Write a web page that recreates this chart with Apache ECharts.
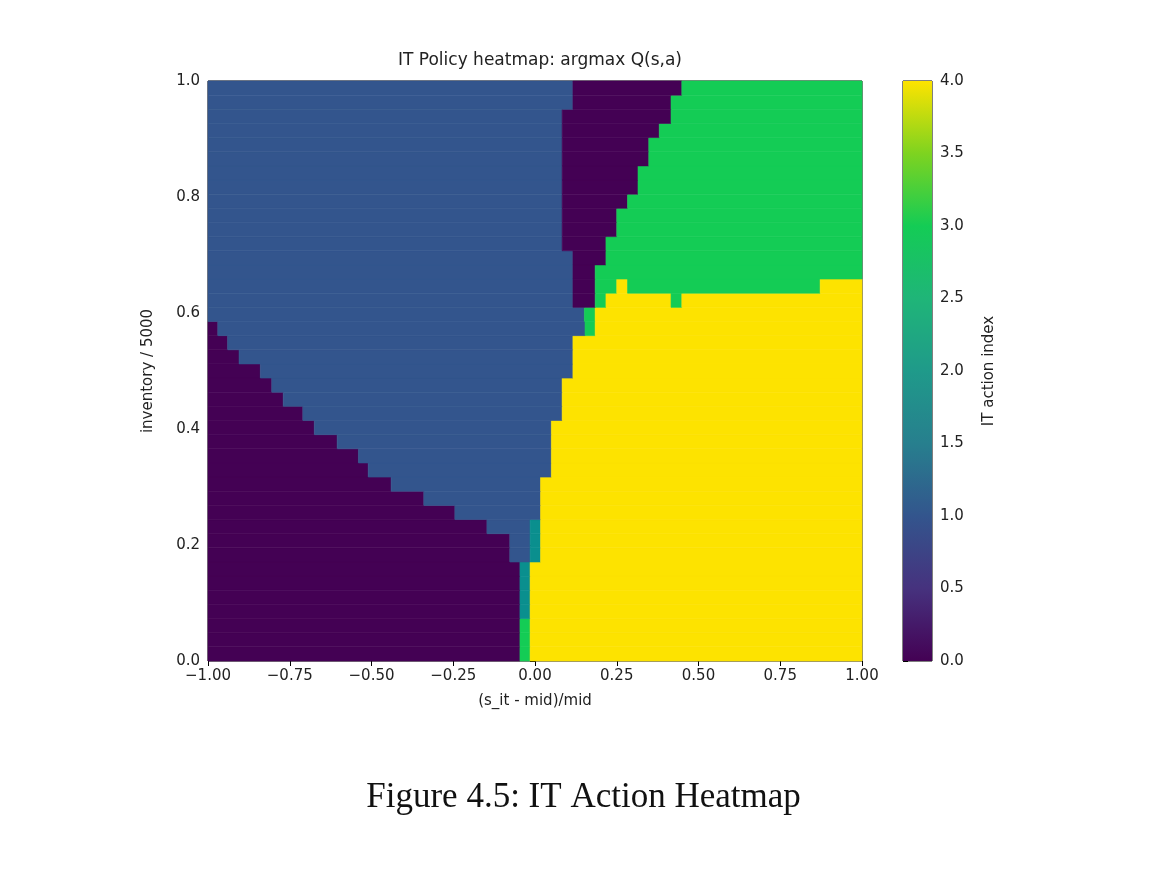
<!DOCTYPE html>
<html><head><meta charset="utf-8">
<script src="https://cdn.jsdelivr.net/npm/echarts@6/dist/echarts.min.js"></script>
<style>html,body{margin:0;background:#fff}#c{width:1167px;height:878px}</style>
</head><body><div id="c"></div>
<script>
const nRows = 41;
// per row (bottom to top): class of each run and x where that run ends
const rowClasses = [
 [0,3,4],[0,3,4],[0,3,4],[0,2,4],[0,2,4],[0,2,4],[0,2,4],
 [0,1,2,4],[0,1,2,4],[0,1,2,4],
 [0,1,4],[0,1,4],[0,1,4],[0,1,4],[0,1,4],[0,1,4],[0,1,4],[0,1,4],[0,1,4],[0,1,4],[0,1,4],[0,1,4],[0,1,4],
 [0,1,3,4],[1,3,4],[1,0,3,4,3,4],[1,0,3,4,3,4],
 [1,0,3],[1,0,3],[1,0,3],[1,0,3],[1,0,3],[1,0,3],[1,0,3],[1,0,3],[1,0,3],[1,0,3],[1,0,3],[1,0,3],[1,0,3],[1,0,3]
];
const rowEnds = [
 [-0.046,-0.015,1],[-0.046,-0.015,1],[-0.046,-0.015,1],
 [-0.046,-0.015,1],[-0.046,-0.015,1],[-0.046,-0.015,1],[-0.046,-0.015,1],
 [-0.077,-0.015,0.017,1],[-0.077,-0.015,0.017,1],[-0.147,-0.015,0.017,1],
 [-0.245,0.017,1],[-0.34,0.017,1],[-0.44,0.017,1],
 [-0.51,0.05,1],[-0.54,0.05,1],[-0.605,0.05,1],[-0.675,0.05,1],
 [-0.71,0.083,1],[-0.77,0.083,1],[-0.805,0.083,1],
 [-0.84,0.116,1],[-0.905,0.116,1],[-0.94,0.116,1],
 [-0.97,0.153,0.184,1],[0.151,0.184,1],
 [0.116,0.184,0.217,0.416,0.449,1],[0.116,0.184,0.25,0.283,0.872,1],
 [0.116,0.184,1],[0.116,0.217,1],[0.083,0.217,1],[0.083,0.25,1],[0.083,0.25,1],
 [0.083,0.283,1],[0.083,0.315,1],[0.083,0.315,1],[0.083,0.348,1],[0.083,0.348,1],
 [0.083,0.38,1],[0.083,0.416,1],[0.116,0.416,1],[0.116,0.449,1]
];
const classColors = ['#440154','#33558d','#0a8f8e','#14cc55','#fde300'];
const cbStops = ['#440154','#46327e','#33558d','#277f8e','#1f9a8a','#1fb578','#14cc55','#7ed320','#fde300'];
const xTicks = [-1,-0.75,-0.5,-0.25,0,0.25,0.5,0.75,1];

const segs = [];
for (let r = 0; r < nRows; r++) {
  let start = -1;
  rowEnds[r].forEach((e, k) => {
    segs.push([start, e, r / nRows, (r + 1) / nRows, rowClasses[r][k]]);
    start = e;
  });
}
const chart = echarts.init(document.getElementById('c'));
const F = 'DejaVu Sans';
chart.setOption({
  animation: false,
  title: {text: 'IT Policy heatmap: argmax Q(s,a)', left: 535, top: 47, textAlign: 'center',
    textStyle: {fontFamily: F, fontSize: 17, fontWeight: 'normal', color: '#222'}},
  grid: [
    {left: 208, top: 81, width: 654, height: 580, show: true, borderColor: '#000', borderWidth: 1, backgroundColor: 'transparent'},
    {left: 903, top: 81, width: 29, height: 580, show: true, borderColor: '#000', borderWidth: 1, backgroundColor: 'transparent'}
  ],
  xAxis: [
    {gridIndex: 0, type: 'value', min: -1, max: 1, interval: 0.25, name: '(s_it - mid)/mid', nameLocation: 'middle', nameGap: 33,
      nameTextStyle: {fontFamily: F, fontSize: 15, color: '#222'},
      axisLine: {show: false}, splitLine: {show: false},
      axisTick: {show: true, length: 5, lineStyle: {color: '#000'}},
      axisLabel: {fontFamily: F, fontSize: 15, color: '#222', margin: 8, formatter: v => v.toFixed(2).replace('-', '\u2212')}},
    {gridIndex: 1, type: 'value', min: 0, max: 1, show: false}
  ],
  yAxis: [
    {gridIndex: 0, type: 'value', min: 0, max: 1, interval: 0.2, name: 'inventory / 5000', nameLocation: 'middle', nameGap: 52,
      nameTextStyle: {fontFamily: F, fontSize: 15, color: '#222'},
      axisLine: {show: false}, splitLine: {show: false},
      axisTick: {show: true, length: 5, lineStyle: {color: '#000'}},
      axisLabel: {fontFamily: F, fontSize: 15, color: '#222', margin: 8, formatter: v => v.toFixed(1)}},
    {gridIndex: 1, type: 'value', min: 0, max: 4, interval: 0.5, position: 'right', name: 'IT action index', nameLocation: 'middle', nameGap: 50, nameRotate: 90,
      nameTextStyle: {fontFamily: F, fontSize: 15, color: '#222'},
      axisLine: {show: false}, splitLine: {show: false},
      axisTick: {show: true, length: 5, lineStyle: {color: '#000'}},
      axisLabel: {fontFamily: F, fontSize: 15, color: '#222', margin: 8, formatter: v => v.toFixed(1)}}
  ],
  series: [
    {type: 'custom', xAxisIndex: 0, yAxisIndex: 0, data: segs, z: 1,
      renderItem: (params, api) => {
        const p0 = api.coord([api.value(0), api.value(3)]);
        const p1 = api.coord([api.value(1), api.value(2)]);
        const c = classColors[api.value(4)];
        return {type: 'rect', shape: {x: p0[0], y: p0[1], width: p1[0] - p0[0], height: p1[1] - p0[1]},
          style: {fill: c, stroke: c, lineWidth: 0.6}};
      }},
    {type: 'custom', xAxisIndex: 1, yAxisIndex: 1, data: [[0, 1, 0, 4]], z: 1,
      renderItem: (params, api) => {
        const p0 = api.coord([api.value(0), api.value(3)]);
        const p1 = api.coord([api.value(1), api.value(2)]);
        return {type: 'rect', shape: {x: p0[0], y: p0[1], width: p1[0] - p0[0], height: p1[1] - p0[1]},
          style: {fill: new echarts.graphic.LinearGradient(0, 1, 0, 0,
            cbStops.map((c, i) => ({offset: i / (cbStops.length - 1), color: c})))}};
      }}
  ],
  graphic: [{type: 'text', left: 'center', top: 780, style: {text: 'Figure 4.5: IT Action Heatmap',
    font: '35px "Liberation Serif"', fill: '#111'}}]
});
</script></body></html>
